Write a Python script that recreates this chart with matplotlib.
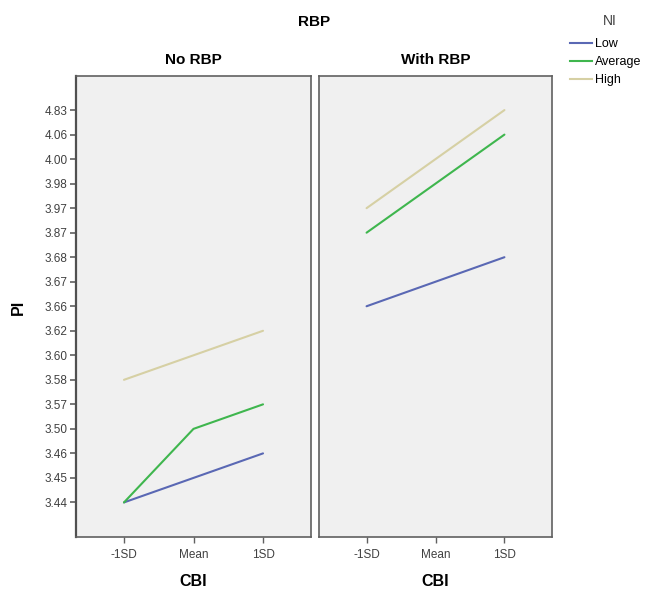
import matplotlib
matplotlib.use("Agg")
import matplotlib.pyplot as plt
from matplotlib.lines import Line2D

# ---- data ----
x_labels = ["-1SD", "Mean", "1SD"]
y_labels = ["3.44", "3.45", "3.46", "3.50", "3.57", "3.58", "3.60", "3.62",
            "3.66", "3.67", "3.68", "3.87", "3.97", "3.98", "4.00", "4.06", "4.83"]
panels = ["No RBP", "With RBP"]
series = ["Low", "Average", "High"]
no_rbp_low = ["3.44", "3.45", "3.46"]
no_rbp_avg = ["3.44", "3.50", "3.57"]
no_rbp_high = ["3.58", "3.60", "3.62"]
with_rbp_low = ["3.66", "3.67", "3.68"]
with_rbp_avg = ["3.87", "3.98", "4.06"]
with_rbp_high = ["3.97", "4.00", "4.83"]
data = {
    "No RBP": [no_rbp_low, no_rbp_avg, no_rbp_high],
    "With RBP": [with_rbp_low, with_rbp_avg, with_rbp_high],
}
colors = ["#5a68b4", "#3fb64e", "#d6d0a4"]

plt.rcParams["font.family"] = ["Liberation Sans", "DejaVu Sans"]
W, H = 647, 591
fig = plt.figure(figsize=(W / 100, H / 100), dpi=100)

def ax_rect(l, t, r, b):
    return [l / W, 1 - b / H, (r - l) / W, (b - t) / H]

rects = [ax_rect(76, 76, 311, 537), ax_rect(319, 76, 552, 537)]
axes = []
for i, (name, rect) in enumerate(zip(panels, rects)):
    ax = fig.add_axes(rect)
    axes.append(ax)
    ax.set_facecolor("#f0f0f0")
    for sp in ax.spines.values():
        sp.set_color("#606060")
        sp.set_linewidth(1.2)
    xs = list(range(len(x_labels)))
    for vals, c in zip(data[name], colors):
        ys = [y_labels.index(v) for v in vals]
        ax.plot(xs, ys, color=c, lw=1.5, solid_capstyle="round")
    ax.set_xlim(-0.69, 2.69)
    ax.set_ylim(-1.41, 17.39)
    ax.set_xticks(xs)
    ax.set_xticklabels(x_labels, fontsize=8.5, color="#404040")
    ax.tick_params(axis="x", direction="out", length=4, width=1, color="#606060", pad=5)
    if i == 0:
        ax.set_yticks(range(len(y_labels)))
        ax.set_yticklabels(y_labels, fontsize=8.5, color="#404040")
        ax.tick_params(axis="y", direction="out", length=4, width=1.2, color="#606060", pad=2)
        ax.spines["left"].set_linewidth(1.6)
        ax.spines["left"].set_color("#505050")
    else:
        ax.set_yticks([])
    ax.set_title(name, fontsize=11, fontweight="bold", pad=9)
    ax.set_xlabel("CBI", fontsize=11.5, fontweight="bold", labelpad=9)

fig.text(314 / W, 1 - 22 / H, "RBP", ha="center", va="center", fontsize=11, fontweight="bold")
fig.text(18 / W, 1 - 307 / H, "PI", ha="center", va="center", rotation=90,
         fontsize=11.5, fontweight="bold")
fig.text(610 / W, 1 - 21 / H, "NI", ha="center", va="center", fontsize=10, color="#404040")

handles = [Line2D([], [], color=c, lw=1.5) for c in colors]
leg = fig.legend(handles, series, loc="upper left",
                 bbox_to_anchor=(570 / W, 1 - 38 / H), frameon=False,
                 fontsize=9, handlelength=1.75, borderpad=0,
                 handletextpad=0.25, labelspacing=0.5, borderaxespad=0)

fig.savefig("out.png", dpi=100, facecolor="white")
